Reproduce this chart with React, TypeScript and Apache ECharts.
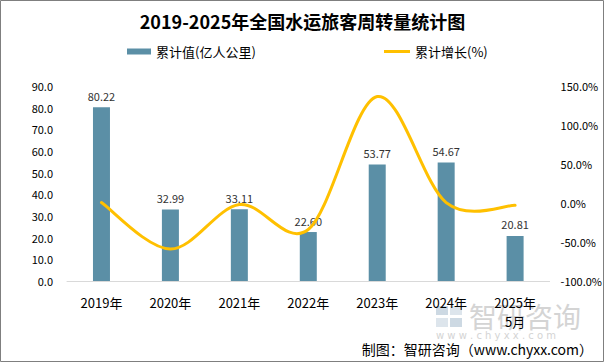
import React, { useEffect, useRef } from "react";
import * as echarts from "echarts";

const categories = ["2019年", "2020年", "2021年", "2022年", "2023年", "2024年", "2025年\n5月"];
const cumulativeValues = [80.22, 32.99, 33.11, 22.6, 53.77, 54.67, 20.81];
const cumulativeGrowth = [0.5, -59.0, -2.0, -34.0, 136.5, 0.5, -3.0];
const leftTicks = { min: 0, max: 90, interval: 10 };
const rightTicks = { min: -100, max: 150, interval: 50 };

const FONT = "'Noto Sans CJK SC', 'Noto Sans', sans-serif";

export default function App() {
  const ref = useRef<HTMLDivElement>(null);
  useEffect(() => {
    if (!ref.current) return;
    const chart = echarts.init(ref.current, null, { renderer: "svg" });
    chart.setOption({
      animation: false,
      backgroundColor: "#ffffff",
      textStyle: { fontFamily: FONT },
      title: {
        text: "2019-2025年全国水运旅客周转量统计图",
        left: "center",
        top: 12,
        padding: 0,
        textStyle: { fontSize: 18, fontWeight: "bold", color: "#000", fontFamily: FONT },
      },
      legend: [
        {
          data: ["累计值(亿人公里)"],
          left: 127,
          top: 45,
          padding: 0,
          itemWidth: 24,
          itemHeight: 6,
          icon: "rect",
          itemGap: 4,
          textStyle: { fontSize: 13, color: "#000", fontFamily: FONT },
        },
        {
          data: ["累计增长(%)"],
          left: 384,
          top: 45,
          padding: 0,
          itemWidth: 26,
          itemHeight: 3,
          icon: "rect",
          textStyle: { fontSize: 13, color: "#000", fontFamily: FONT },
        },
      ],
      grid: { left: 67, right: 53, top: 86, bottom: 82 },
      xAxis: {
        type: "category",
        data: categories,
        axisLine: { show: true, lineStyle: { color: "#d9d9d9", width: 1 } },
        axisTick: { show: false },
        axisLabel: {
          interval: 0,
          margin: 12,
          fontSize: 13,
          lineHeight: 19,
          color: "#000",
          fontFamily: FONT,
        },
      },
      yAxis: [
        {
          type: "value",
          min: leftTicks.min,
          max: leftTicks.max,
          interval: leftTicks.interval,
          axisLine: { show: false },
          axisTick: { show: false },
          splitLine: { show: false },
          axisLabel: {
            margin: 14,
            fontSize: 11,
            color: "#000",
            fontFamily: FONT,
            formatter: (v: number) => v.toFixed(1),
          },
        },
        {
          type: "value",
          min: rightTicks.min,
          max: rightTicks.max,
          interval: rightTicks.interval,
          axisLine: { show: false },
          axisTick: { show: false },
          splitLine: { show: false },
          axisLabel: {
            margin: 11,
            fontSize: 11,
            color: "#000",
            fontFamily: FONT,
            formatter: (v: number) => v.toFixed(1) + "%",
          },
        },
      ],
      series: [
        {
          name: "累计值(亿人公里)",
          type: "bar",
          data: cumulativeValues,
          barWidth: 17,
          itemStyle: { color: "#5b8fa6" },
          label: {
            show: true,
            position: "top",
            distance: 6,
            fontSize: 11,
            color: "#333",
            fontFamily: FONT,
            formatter: (p: any) => p.value.toFixed(2),
          },
        },
        {
          name: "累计增长(%)",
          type: "custom",
          yAxisIndex: 1,
          data: cumulativeGrowth.map((v, i) => [i, v]),
          itemStyle: { color: "#ffc000" },
          z: 3,
          renderItem: (params: any, api: any) => {
            if (params.dataIndex !== 0) return null;
            const pts = cumulativeGrowth.map((v, k) => api.coord([k, v]));
            const n = pts.length;
            let d = `M${pts[0][0]},${pts[0][1]}`;
            for (let i = 0; i < n - 1; i++) {
              const p0 = pts[Math.max(0, i - 1)];
              const p1 = pts[i];
              const p2 = pts[i + 1];
              const p3 = pts[Math.min(n - 1, i + 2)];
              const c1x = p1[0] + (p2[0] - p0[0]) / 6;
              const c1y = p1[1] + (p2[1] - p0[1]) / 6;
              const c2x = p2[0] - (p3[0] - p1[0]) / 6;
              const c2y = p2[1] - (p3[1] - p1[1]) / 6;
              d += ` C${c1x},${c1y} ${c2x},${c2y} ${p2[0]},${p2[1]}`;
            }
            return {
              type: "path",
              shape: { pathData: d },
              style: { fill: "none", stroke: "#ffc000", lineWidth: 3, lineCap: "round", lineJoin: "round" },
            };
          },
        },
      ],
      graphic: [
        {
          type: "rect",
          shape: { x: 0.5, y: 0.5, width: 603, height: 361 },
          style: { fill: "none", stroke: "#7f7f7f", lineWidth: 1 },
          z: 100,
        },
        {
          type: "group",
          z: 1,
          children: [
            { type: "rect", shape: { x: 436, y: 306, width: 12, height: 9 }, style: { fill: "#cdd9e3" } },
            { type: "rect", shape: { x: 450, y: 306, width: 12, height: 9 }, style: { fill: "#dde5ec" } },
            { type: "rect", shape: { x: 436, y: 318, width: 12, height: 9 }, style: { fill: "#dde5ec" } },
            { type: "rect", shape: { x: 450, y: 318, width: 12, height: 9 }, style: { fill: "#cdd9e3" } },
            {
              type: "text",
              x: 469,
              y: 302,
              style: { text: "智研咨询", fontSize: 28, fill: "#d4d4d4", fontFamily: FONT },
            },
            {
              type: "text",
              x: 436,
              y: 330,
              style: { text: "w w w . c h y x x . c o m", fontSize: 10, fill: "#d4d4d4", fontFamily: "DejaVu Sans" },
            },
          ],
        },
        {
          type: "text",
          right: 12,
          top: 342,
          style: { text: "制图：智研咨询（www.chyxx.com）", fontSize: 14, fill: "#000", fontFamily: FONT },
        },
      ],
    });
    return () => chart.dispose();
  }, []);
  return <div ref={ref} style={{ position: "absolute", left: 0, top: 0, width: 605, height: 363 }} />;
}
